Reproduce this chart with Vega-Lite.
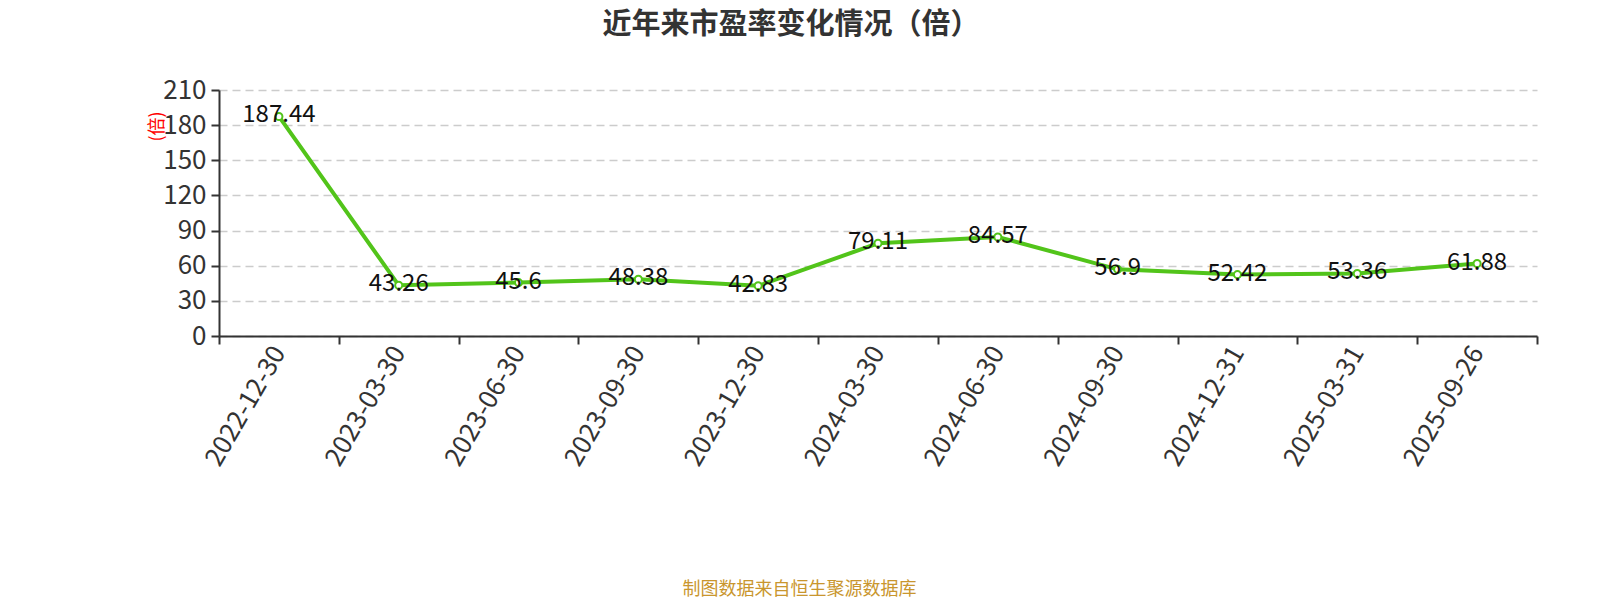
{
  "$schema": "https://vega.github.io/schema/vega-lite/v6.json",
  "autosize": "none",
  "width": 1318,
  "height": 246,
  "padding": {"left": 219, "top": 90, "right": 63, "bottom": 264},
  "background": "white",
  "title": {
    "text": "近年来市盈率变化情况（倍）",
    "font": "Noto Sans CJK SC",
    "fontSize": 29,
    "fontWeight": "bold",
    "color": "#333333",
    "anchor": "middle",
    "dx": -87,
    "offset": 37
  },
  "data": {
    "values": [
      {"date": "2022-12-30", "pe": 187.44},
      {"date": "2023-03-30", "pe": 43.26},
      {"date": "2023-06-30", "pe": 45.6},
      {"date": "2023-09-30", "pe": 48.38},
      {"date": "2023-12-30", "pe": 42.83},
      {"date": "2024-03-30", "pe": 79.11},
      {"date": "2024-06-30", "pe": 84.57},
      {"date": "2024-09-30", "pe": 56.9},
      {"date": "2024-12-31", "pe": 52.42},
      {"date": "2025-03-31", "pe": 53.36},
      {"date": "2025-09-26", "pe": 61.88}
    ]
  },
  "encoding": {
    "x": {
      "field": "date",
      "type": "ordinal",
      "sort": null,
      "scale": {"type": "band", "paddingInner": 0, "paddingOuter": 0},
      "axis": {
        "title": "制图数据来自恒生聚源数据库",
        "titleColor": "#C9962E",
        "titleFont": "Noto Sans CJK SC",
        "titleFontSize": 18,
        "titleFontWeight": "normal",
        "titleX": 580,
        "titleY": 253,
        "titleAlign": "center",
        "titleBaseline": "middle",
        "labelAngle": -60,
        "labelFont": "Noto Sans CJK SC",
        "labelFontSize": 26,
        "labelColor": "#333333",
        "labelPadding": 4,
        "tickBand": "extent",
        "tickSize": 8,
        "tickColor": "#333333",
        "tickWidth": 2,
        "domainColor": "#333333",
        "domainWidth": 2,
        "grid": false
      }
    },
    "y": {
      "field": "pe",
      "type": "quantitative",
      "scale": {"domain": [0, 210], "nice": false},
      "axis": {
        "values": [0, 30, 60, 90, 120, 150, 180, 210],
        "title": "(倍)",
        "titleColor": "#FF0000",
        "titleFont": "Noto Sans CJK SC",
        "titleFontSize": 18,
        "titleFontWeight": "normal",
        "titleX": -62,
        "titleY": 36,
        "titleAngle": -90,
        "titleAlign": "center",
        "titleBaseline": "middle",
        "labelFont": "Noto Sans CJK SC",
        "labelFontSize": 26,
        "labelColor": "#333333",
        "labelPadding": 5,
        "tickSize": 8,
        "tickColor": "#333333",
        "tickWidth": 2,
        "domainColor": "#333333",
        "domainWidth": 2,
        "grid": true,
        "gridColor": "#CCCCCC",
        "gridDash": [8, 5],
        "gridWidth": 1.5
      }
    }
  },
  "layer": [
    {
      "mark": {"type": "line", "color": "#52C41A", "strokeWidth": 4}
    },
    {
      "mark": {"type": "point", "shape": "circle", "filled": true, "fill": "white", "stroke": "#52C41A", "strokeWidth": 2, "size": 50, "opacity": 1}
    },
    {
      "mark": {"type": "text", "font": "Noto Sans CJK SC", "fontSize": 24, "color": "#111111", "baseline": "middle", "align": "center", "dy": -1},
      "encoding": {"text": {"field": "pe", "type": "quantitative"}}
    }
  ],
  "config": {"view": {"stroke": null}}
}
